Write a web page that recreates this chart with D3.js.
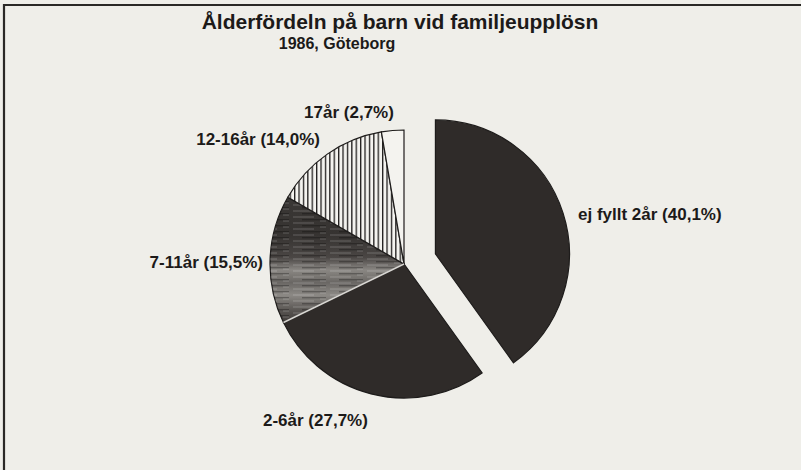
<!DOCTYPE html>
<html>
<head>
<meta charset="utf-8">
<script src="https://cdn.jsdelivr.net/npm/d3@7/dist/d3.min.js"></script>
<style>
  body { margin: 0; background: #efeee9; }
  text { font-family: "Liberation Sans", Arial, sans-serif; font-weight: bold; fill: #1c1a19; }
</style>
</head>
<body>
<svg width="801" height="470"></svg>
<script>
// data
var categories = ["ej fyllt 2år", "2-6år", "7-11år", "12-16år", "17år"];
var values = [40.1, 27.7, 15.5, 14.0, 2.7];
var labels = ["ej fyllt 2år (40,1%)", "2-6år (27,7%)", "7-11år (15,5%)", "12-16år (14,0%)", "17år (2,7%)"];

var svg = d3.select("svg"),
  width = 801,
  height = 470,
  cx = 404,
  cy = 264,
  r = 134,
  explode = 33;

var defs = svg.append("defs");

// vertical hatch for 12-16
var hatch = defs.append("pattern")
  .attr("id", "hatch")
  .attr("patternUnits", "userSpaceOnUse")
  .attr("width", 4.4)
  .attr("height", 10);
hatch.append("rect").attr("width", 4.4).attr("height", 10).attr("fill", "#f4f3ef");
hatch.append("rect").attr("x", 0).attr("width", 1.3).attr("height", 10).attr("fill", "#1e1c1b");

// streaky grey for 7-11
var grad = defs.append("linearGradient")
  .attr("id", "grey")
  .attr("x1", 0).attr("y1", 0).attr("x2", 0).attr("y2", 1);
[[0, "#3a3735"], [0.3, "#363331"], [0.48, "#4a4644"], [0.58, "#8a8783"], [0.68, "#6a6764"], [0.78, "#8c8985"], [0.9, "#5a5653"], [1, "#3e3a38"]]
  .forEach(function(s) { grad.append("stop").attr("offset", s[0]).attr("stop-color", s[1]); });

var streak = defs.append("pattern")
  .attr("id", "streak")
  .attr("patternUnits", "userSpaceOnUse")
  .attr("width", 37)
  .attr("height", 6);
streak.append("rect").attr("y", 0.5).attr("width", 21).attr("height", 1).attr("fill", "#ffffff").attr("opacity", 0.22);
streak.append("rect").attr("x", 9).attr("y", 3).attr("width", 24).attr("height", 1.4).attr("fill", "#000000").attr("opacity", 0.28);
streak.append("rect").attr("x", 27).attr("y", 4.5).attr("width", 6).attr("height", 1).attr("fill", "#ffffff").attr("opacity", 0.2);

var fills = ["#2f2b29", "#2f2b29", "url(#grey)", "url(#hatch)", "#f4f3ef"];

// frame of the figure
svg.append("line")
  .attr("x1", 3).attr("x2", width).attr("y1", 5).attr("y2", 5)
  .attr("stroke", "#2a2826").attr("stroke-width", 2.2);
svg.append("line")
  .attr("x1", 4).attr("x2", 4).attr("y1", 4).attr("y2", height)
  .attr("stroke", "#2a2826").attr("stroke-width", 2.2);

svg.append("text")
  .attr("x", 400).attr("y", 29)
  .attr("text-anchor", "middle")
  .style("font-size", "21px")
  .text("Ålderfördeln på barn vid familjeupplösn");
svg.append("text")
  .attr("x", 337).attr("y", 49)
  .attr("text-anchor", "middle")
  .style("font-size", "16px")
  .text("1986, Göteborg");

var pie = d3.pie().sort(null).value(function(d) { return d; });
var arcs = pie(values);
var arc = d3.arc().innerRadius(0).outerRadius(r);

var g = svg.append("g").attr("transform", "translate(" + cx + "," + cy + ")");

var slice = g.selectAll(".slice")
  .data(arcs)
  .enter().append("g")
  .attr("class", "slice")
  .attr("transform", function(d, i) {
    if (i !== 0) return null;
    var a = (d.startAngle + d.endAngle) / 2;
    return "translate(" + (explode * Math.sin(a)) + "," + (-explode * Math.cos(a)) + ")";
  });

slice.append("path")
  .attr("d", arc)
  .attr("fill", function(d, i) { return fills[i]; })
  .attr("stroke", "#1e1c1b")
  .attr("stroke-width", 1.2);

slice.filter(function(d, i) { return i === 2; })
  .append("path")
  .attr("d", arc)
  .attr("fill", "url(#streak)");

// light seam between 7-11 and 2-6
g.append("line")
  .attr("x1", 0).attr("y1", 0)
  .attr("x2", r * Math.sin(arcs[2].startAngle))
  .attr("y2", -r * Math.cos(arcs[2].startAngle))
  .attr("stroke", "#d8d6d2").attr("stroke-width", 1.6);

// labels
var labelPos = [[578, 220, "start"], [263, 426, "start"], [263, 268, "end"], [320, 145, "end"], [349, 118, "middle"]];
svg.selectAll(".lbl")
  .data(labels)
  .enter().append("text")
  .attr("class", "lbl")
  .attr("x", function(d, i) { return labelPos[i][0]; })
  .attr("y", function(d, i) { return labelPos[i][1]; })
  .attr("text-anchor", function(d, i) { return labelPos[i][2]; })
  .style("font-size", "17px")
  .text(function(d) { return d; });
</script>
</body>
</html>
